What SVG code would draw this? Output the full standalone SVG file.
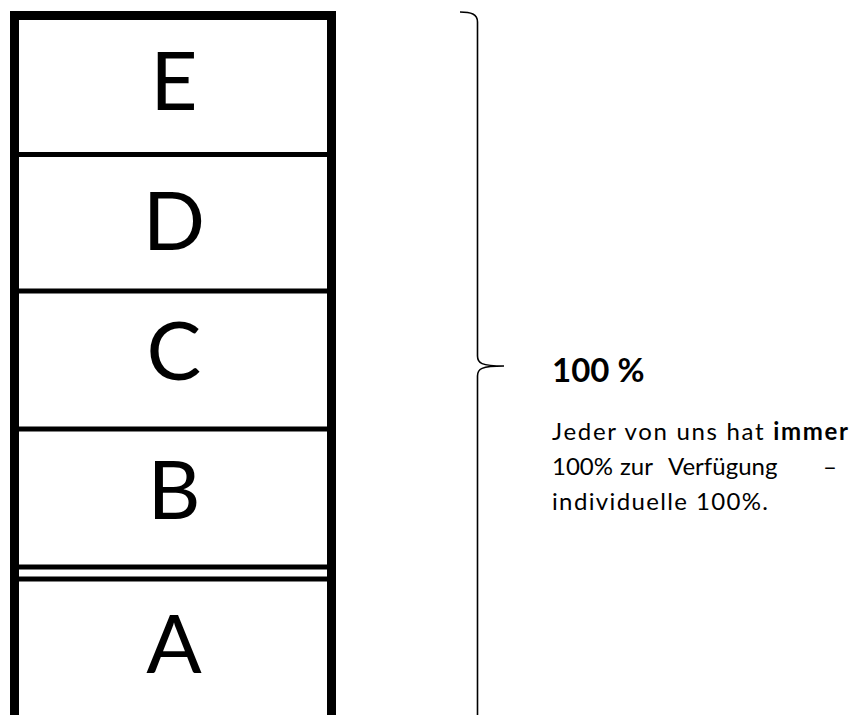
<svg xmlns="http://www.w3.org/2000/svg" width="859" height="715" viewBox="0 0 859 715">
<style>
.frame{fill:none;stroke:#000;stroke-width:9}
.div{stroke:#000;stroke-width:5}
.lbl{font-family:Lato,"Open Sans",sans-serif;font-size:82px;fill:#000;text-anchor:middle}
.brace{fill:none;stroke:#000;stroke-width:1.6}
.head{font-family:Lato,"Open Sans",sans-serif;font-weight:bold;font-size:33px;fill:#000}
.body{font-family:Lato,"Open Sans",sans-serif;font-size:24px;fill:#000}
</style>
<rect width="859" height="715" fill="#fff"/>
<g id="column">
<path class="frame" d="M14.5 715 V15.5 H331.5 V715"/>
</g>
<g id="dividers">
<line class="div" x1="19" y1="154.5" x2="327" y2="154.5"/>
<line class="div" x1="19" y1="291" x2="327" y2="291"/>
<line class="div" x1="19" y1="429" x2="327" y2="429"/>
<line class="div" x1="19" y1="567" x2="327" y2="567"/>
<line class="div" x1="19" y1="579" x2="327" y2="579"/>
</g>
<g id="E"><text class="lbl" x="174" y="110">E</text></g>
<g id="D"><text class="lbl" x="174" y="250">D</text></g>
<g id="C"><text class="lbl" x="174" y="380">C</text></g>
<g id="B"><text class="lbl" x="174" y="519">B</text></g>
<g id="A"><text class="lbl" x="174" y="673">A</text></g>
<g id="connectors">
<path class="brace" d="M460 12 C471 12 477.5 14 477.5 22 L477.5 356 C477.5 363 481 366 504 366 M477.5 715 L477.5 376 C477.5 369 481 366 504 366"/>
</g>
<g id="label">
<text class="head" x="552" y="382">100 %</text>
<text class="body" x="552" y="440" textLength="296" lengthAdjust="spacing">Jeder von uns hat <tspan font-weight="bold">immer</tspan></text>
<text class="body" y="475"><tspan x="552">100%</tspan><tspan x="620">zur</tspan><tspan x="668">Verfügung</tspan><tspan x="823">–</tspan></text>
<text class="body" x="552" y="510" textLength="216" lengthAdjust="spacing">individuelle 100%.</text>
</g>
</svg>
